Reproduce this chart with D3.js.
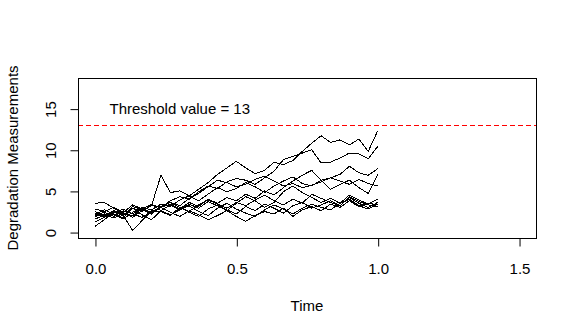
<!DOCTYPE html>
<html>
<head>
<meta charset="utf-8">
<script src="https://cdn.jsdelivr.net/npm/d3@7"></script>
<style>
  html, body { margin: 0; padding: 0; background: #fff; }
  svg { display: block; font-family: "Liberation Sans", Arial, sans-serif; }
</style>
</head>
<body>
<svg id="chart" width="577" height="336"></svg>
<script>
// Degradation paths observed at 31 equally spaced times on [0, 1].
const times = d3.range(31).map((i) => i / 30);

const pathValues = [
  [2.0, 2.4, 1.9, 2.6, 2.2, 3.0, 2.7, 3.4, 3.1, 3.9, 4.4, 5.2, 6.0, 7.0, 7.8, 8.6, 7.8, 7.1, 7.5, 8.5, 8.2, 8.7, 9.8, 10.8, 11.7, 10.9, 11.2, 10.6, 11.3, 9.8, 12.3],
  [1.6, 2.0, 2.6, 2.1, 2.9, 2.5, 3.3, 3.0, 3.8, 4.3, 4.0, 4.9, 5.6, 5.3, 6.1, 6.5, 6.3, 5.8, 6.6, 7.4, 8.8, 9.2, 9.6, 10.0, 8.4, 8.5, 9.0, 9.6, 9.5, 8.9, 10.4],
  [3.5, 3.6, 2.9, 2.3, 1.8, 2.6, 3.2, 6.9, 4.8, 5.0, 4.4, 3.8, 4.6, 5.4, 4.9, 5.3, 6.0, 5.5, 4.8, 5.6, 6.2, 6.7, 5.9, 5.6, 6.3, 6.6, 7.0, 8.0, 7.2, 6.9, 7.7],
  [2.3, 1.9, 2.5, 2.0, 3.1, 2.7, 2.2, 3.0, 3.4, 2.8, 3.6, 3.1, 4.0, 3.5, 4.2, 3.8, 4.6, 4.1, 5.0, 4.5, 5.4, 6.2, 6.9, 7.5, 6.3, 5.2, 5.8, 6.3, 5.4, 4.7, 7.0],
  [1.2, 1.8, 2.2, 1.6, 2.4, 2.9, 2.3, 3.1, 3.6, 3.2, 4.1, 4.7, 5.5, 6.3, 6.0, 5.5, 5.8, 6.4, 6.8, 6.2, 5.6, 5.9, 5.4, 5.7, 6.1, 6.6, 6.2, 5.8, 6.4, 5.9, 5.6],
  [2.1, 2.7, 2.2, 1.7, 2.9, 2.1, 1.5, 2.6, 3.3, 2.7, 3.4, 2.9, 3.7, 3.2, 2.6, 3.5, 4.3, 3.8, 3.0, 3.6, 4.9, 5.6, 4.8, 4.2, 3.6, 4.1, 3.5, 4.5, 3.9, 3.4, 4.0],
  [0.7, 1.5, 2.4, 2.0, 0.2, 1.4, 2.6, 2.5, 2.0, 3.0, 2.4, 1.9, 2.8, 3.3, 2.7, 2.2, 3.1, 2.6, 3.4, 2.9, 2.3, 3.2, 3.6, 2.9, 3.3, 3.8, 3.2, 4.2, 3.5, 3.0, 3.6],
  [1.9, 2.2, 1.7, 2.3, 2.0, 2.8, 3.4, 2.6, 2.1, 2.7, 3.2, 2.5, 2.0, 2.9, 3.5, 2.8, 2.3, 1.9, 2.7, 3.3, 2.8, 2.2, 2.9, 3.4, 3.0, 2.7, 3.5, 4.0, 3.2, 2.8, 3.4],
  [2.5, 1.9, 2.3, 2.8, 2.2, 1.8, 2.5, 3.0, 2.4, 1.9, 2.6, 2.1, 1.5, 2.0, 2.6, 1.9, 1.3, 2.0, 2.5, 2.2, 2.9, 1.9, 2.7, 3.1, 2.6, 3.4, 3.0, 3.8, 3.1, 3.5, 3.3],
  [2.8, 2.5, 3.0, 2.4, 3.3, 2.8, 2.4, 3.1, 3.6, 3.0, 2.5, 3.3, 3.9, 3.4, 2.9, 3.6, 3.2, 3.9, 4.5, 3.8, 3.3, 4.0, 3.5, 4.6, 4.1, 3.6, 3.2, 4.3, 3.7, 3.3, 3.1],
];

const xTicks = [0, 0.5, 1.0, 1.5];
const yTicks = [0, 5, 10, 15];
const threshold = 13;

const svg = d3.select("#chart");
const box = { left: 78, right: 536, top: 78, bottom: 238 };

// R style limits: data range padded by 4% each side
const x = d3.scaleLinear().domain([-0.06, 1.56]).range([box.left, box.right]);
const y = d3.scaleLinear().domain([-0.72, 18.72]).range([box.bottom, box.top]);

const line = d3
  .line()
  .x((d) => x(d[0]))
  .y((d) => y(d[1]));

const paths = svg.append("g");
pathValues.forEach((vals) => {
  paths
    .append("path")
    .datum(times.map((t, i) => [t, vals[i]]))
    .attr("d", line)
    .attr("fill", "none")
    .attr("stroke", "#000")
    .attr("stroke-width", 1)
    .attr("shape-rendering", "crispEdges");
});

svg
  .append("line")
  .attr("x1", box.left)
  .attr("x2", box.right)
  .attr("y1", Math.round(y(threshold)) + 0.5)
  .attr("y2", Math.round(y(threshold)) + 0.5)
  .attr("stroke", "#ff0000")
  .attr("stroke-width", 1)
  .attr("stroke-dasharray", "5,3");

svg
  .append("text")
  .attr("x", x(0.3))
  .attr("y", y(15) + 5)
  .attr("text-anchor", "middle")
  .attr("font-size", "15px")
  .attr("fill", "#000")
  .text(`Threshold value = ${threshold}`);

// plot frame
svg
  .append("rect")
  .attr("x", box.left + 0.5)
  .attr("y", box.top + 0.5)
  .attr("width", box.right - box.left)
  .attr("height", box.bottom - box.top)
  .attr("fill", "none")
  .attr("stroke", "#000")
  .attr("stroke-width", 1);

// x axis
const xAxis = svg
  .append("g")
  .attr("transform", `translate(0.5,${box.bottom + 0.5})`)
  .call(d3.axisBottom(x).tickValues(xTicks).tickSize(8).tickSizeOuter(0).tickPadding(20).tickFormat(d3.format(".1f")));
xAxis.select(".domain").remove();
xAxis.selectAll("text").attr("font-size", "15px").attr("font-family", null).attr("fill", "#000").attr("dy", null).attr("y", 35);
xAxis.selectAll("line").attr("stroke", "#000");

// y axis
const yAxis = svg
  .append("g")
  .attr("transform", `translate(${box.left + 0.5},0.5)`)
  .call(d3.axisLeft(y).tickValues(yTicks).tickSize(8).tickSizeOuter(0).tickFormat(d3.format("d")));
yAxis.select(".domain").remove();
yAxis.selectAll("line").attr("stroke", "#000");
yAxis
  .selectAll("text")
  .attr("font-size", "15px")
  .attr("font-family", null)
  .attr("fill", "#000")
  .attr("x", null)
  .attr("dy", null)
  .attr("text-anchor", "middle")
  .attr("transform", "translate(-23,0) rotate(-90)");

svg
  .append("text")
  .attr("x", (box.left + box.right) / 2)
  .attr("y", 311)
  .attr("text-anchor", "middle")
  .attr("font-size", "15px")
  .attr("fill", "#000")
  .text("Time");

svg
  .append("text")
  .attr("transform", `translate(18,${(box.top + box.bottom) / 2}) rotate(-90)`)
  .attr("text-anchor", "middle")
  .attr("font-size", "15px")
  .attr("fill", "#000")
  .text("Degradation Measurements");
</script>
</body>
</html>
